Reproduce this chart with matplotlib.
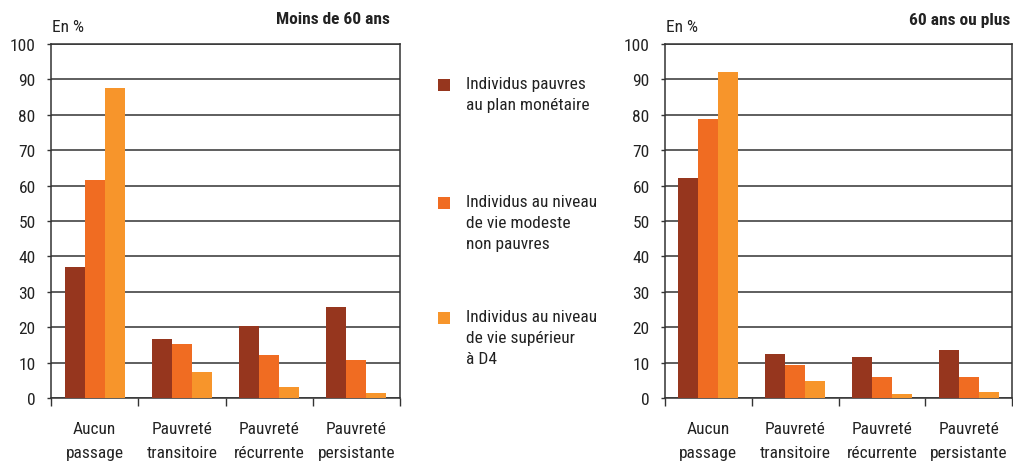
import matplotlib
matplotlib.use("Agg")
import matplotlib.pyplot as plt
from matplotlib.patches import Rectangle
from matplotlib import font_manager
import numpy as np

names = {f.name for f in font_manager.fontManager.ttflist}
FONT = next((f for f in ['Liberation Sans Narrow', 'Roboto Condensed', 'Archivo Narrow', 'Liberation Sans']
             if f in names), 'DejaVu Sans')
plt.rcParams['font.family'] = [FONT, 'DejaVu Sans']

categories = ["Aucun\npassage", "Pauvreté\ntransitoire", "Pauvreté\nrécurrente", "Pauvreté\npersistante"]
series_labels = ["Individus pauvres\nau plan monétaire",
                 "Individus au niveau\nde vie modeste\nnon pauvres",
                 "Individus au niveau\nde vie supérieur\nà D4"]
colors = ["#96361E", "#F06C22", "#F7952B"]

moins60_pauvres = [37.0, 16.7, 20.3, 25.7]
moins60_modestes = [61.6, 15.3, 12.1, 10.7]
moins60_superieur = [87.6, 7.3, 3.1, 1.4]

plus60_pauvres = [62.1, 12.5, 11.7, 13.7]
plus60_modestes = [78.8, 9.4, 5.8, 6.0]
plus60_superieur = [92.1, 4.9, 1.2, 1.8]

yticks = [0, 10, 20, 30, 40, 50, 60, 70, 80, 90, 100]

TXT = "#222222"
LINE = "#333333"
FS = 12.5

fig = plt.figure(figsize=(10.13, 4.64), dpi=100)
W, H = 1013, 464

def make_ax(x0, x1, y_top, y_bot, series, title, title_right):
    ax = fig.add_axes([x0 / W, 1 - y_bot / H, (x1 - x0) / W, (y_bot - y_top) / H])
    x = np.arange(len(categories))
    bw = 0.23
    for i, (vals, c) in enumerate(zip(series, colors)):
        ax.bar(x + (i - 1) * bw, vals, width=bw, color=c, zorder=3, linewidth=0)
    ax.set_xlim(-0.5, len(categories) - 0.5)
    ax.set_ylim(0, 100)
    ax.set_yticks(yticks)
    ax.set_yticklabels([str(v) for v in yticks], fontsize=FS, color=TXT)
    ax.yaxis.grid(True, color=LINE, linewidth=1.1, zorder=1)
    ax.set_xticks(np.arange(-0.5, len(categories), 1.0))
    ax.set_xticklabels([])
    ax.set_xticks(x, minor=True)
    ax.set_xticklabels(categories, minor=True, fontsize=FS, color=TXT, linespacing=1.75)
    ax.tick_params(axis='x', which='major', length=6, width=1, color=LINE, direction='out')
    ax.tick_params(axis='x', which='minor', length=0, pad=16.5)
    ax.tick_params(axis='y', length=3, width=1, color=LINE, pad=8)
    for s in ax.spines.values():
        s.set_color(LINE)
        s.set_linewidth(1.1)
    ax.set_axisbelow(True)
    fig.text((x0 + 1) / W, 1 - 27 / H, "En %", fontsize=FS, color=TXT, va='center', ha='left')
    fig.text(title_right / W, 1 - 20 / H, title, fontsize=FS, color=TXT, va='center', ha='right',
             fontweight='bold')
    return ax

make_ax(51, 400, 45, 399, [moins60_pauvres, moins60_modestes, moins60_superieur], "Moins de 60 ans", 390)
make_ax(665, 1012, 45, 399, [plus60_pauvres, plus60_modestes, plus60_superieur], "60 ans ou plus", 1010)

# legend
leg_y = [86, 204, 319]
for lab, c, yy in zip(series_labels, colors, leg_y):
    fig.patches.append(Rectangle((438 / W, 1 - (yy + 6) / H), 12 / W, 12 / H,
                                 transform=fig.transFigure, facecolor=c, edgecolor='none'))
    fig.text(466 / W, 1 - (yy - 9) / H, lab, fontsize=FS, color=TXT, va='top', ha='left',
             linespacing=1.5)

fig.savefig("out.png", dpi=100)
